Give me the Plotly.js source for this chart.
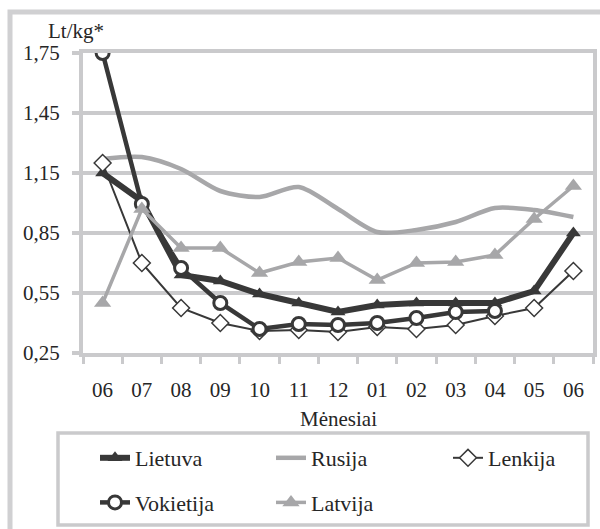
<!DOCTYPE html>
<html>
<head>
<meta charset="utf-8">
<script src="https://cdn.plot.ly/plotly-3.0.1.min.js"></script>
<style>html,body{margin:0;padding:0;background:#fff;}#chart{width:600px;height:529px;}</style>
</head>
<body>
<div id="chart"></div>
<script>
const months = ['06','07','08','09','10','11','12','01','02','03','04','05','06'];
const lietuva   = [1.15, 1.01, 0.64, 0.61, 0.545, 0.50, 0.455, 0.49, 0.50, 0.50, 0.50, 0.56, 0.85];
const rusija    = [1.22, 1.23, 1.17, 1.06, 1.03, 1.08, 0.97, 0.855, 0.865, 0.905, 0.975, 0.965, 0.93];
const lenkija   = [1.20, 0.70, 0.475, 0.40, 0.36, 0.365, 0.355, 0.38, 0.37, 0.39, 0.435, 0.475, 0.66];
const vokietija = [1.75, 0.995, 0.675, 0.50, 0.37, 0.395, 0.39, 0.40, 0.425, 0.455, 0.46, null, null];
const latvija   = [0.50, 0.97, 0.775, 0.775, 0.65, 0.705, 0.725, 0.615, 0.70, 0.705, 0.74, 0.92, 1.085];
const yTickVals = [0.25, 0.55, 0.85, 1.15, 1.45, 1.75];
const yTickText = ['0,25', '0,55', '0,85', '1,15', '1,45', '1,75'];

const xIdx = months.map((_, i) => i);
const DARK = '#383838';
const GREY = '#a7a7a9';
const GRID = '#cacacc';
const FONT = 'Liberation Serif, serif';
const TXT = '#262626';

const traces = [
  {name: 'Lietuva', x: xIdx, y: lietuva, mode: 'lines+markers', legend: 'legend', legendgroup: 'a',
   line: {color: DARK, width: 6}, marker: {symbol: 'triangle-up', size: 13, color: DARK}},
  {name: 'Rusija', x: xIdx, y: rusija, mode: 'lines', legend: 'legend2', legendgroup: 'b',
   line: {color: GREY, width: 4.5, shape: 'spline', smoothing: 0.8}},
  {name: 'Lenkija', x: xIdx, y: lenkija, mode: 'lines+markers', legend: 'legend3', legendgroup: 'c',
   line: {color: DARK, width: 2}, marker: {symbol: 'diamond', size: 13, color: '#fff', line: {color: DARK, width: 1.5}}},
  {name: 'Vokietija', x: xIdx, y: vokietija, mode: 'lines+markers', legend: 'legend', legendgroup: 'd',
   line: {color: DARK, width: 4.5}, marker: {symbol: 'circle', size: 13, color: '#fff', line: {color: DARK, width: 3}}},
  {name: 'Latvija', x: xIdx, y: latvija, mode: 'lines+markers', legend: 'legend2', legendgroup: 'e',
   line: {color: GREY, width: 3.5}, marker: {symbol: 'triangle-up', size: 15, color: GREY}}
];

const px2x = p => (p - 83) / 510;
const px2y = p => (353 - p) / 300;

function col(xpx, ymid) {
  return {
    orientation: 'v', xref: 'container', yref: 'container',
    x: xpx / 600, xanchor: 'left', y: 1 - ymid / 529, yanchor: 'middle',
    tracegroupgap: 13,
    font: {family: FONT, size: 22, color: TXT}, bgcolor: 'rgba(0,0,0,0)', borderwidth: 0
  };
}

const layout = {
  width: 600, height: 529,
  margin: {l: 83, r: 7, t: 53, b: 176, autoexpand: false},
  paper_bgcolor: '#fff', plot_bgcolor: '#fff',
  font: {family: FONT, size: 21, color: TXT},
  showlegend: true,
  xaxis: {
    range: [-0.5, months.length - 0.5], automargin: false,
    tickmode: 'array', tickvals: xIdx, ticktext: months,
    ticks: '', showgrid: false, zeroline: false,
    showline: true, mirror: true, linecolor: GRID, linewidth: 4,
    ticklabelstandoff: 15,
    minor: {tick0: -0.5, dtick: 1, ticks: 'outside', ticklen: 7, tickwidth: 3, tickcolor: GRID, showgrid: false},
    tickfont: {family: FONT, size: 21, color: TXT}
  },
  yaxis: {
    range: [0.25, 1.75], automargin: false,
    tickmode: 'array', tickvals: yTickVals, ticktext: yTickText,
    ticks: 'outside', ticklen: 7, tickwidth: 4, tickcolor: GRID,
    showgrid: true, gridcolor: GRID, gridwidth: 4, zeroline: false,
    showline: true, mirror: true, linecolor: GRID, linewidth: 4,
    ticklabelstandoff: 8,
    tickfont: {family: FONT, size: 21, color: TXT}
  },
  legend: col(95, 480.5),
  legend2: col(271, 480.5),
  legend3: col(448, 458),
  shapes: [
    {type: 'rect', xref: 'paper', yref: 'paper', x0: px2x(10), x1: px2x(640), y0: px2y(12), y1: px2y(620),
     line: {color: '#d0d0d2', width: 5}, fillcolor: 'rgba(0,0,0,0)', layer: 'below'},
    {type: 'rect', xref: 'paper', yref: 'paper', x0: px2x(58), x1: px2x(588), y0: px2y(433), y1: px2y(525),
     line: {color: GRID, width: 3.5}, fillcolor: 'rgba(0,0,0,0)', layer: 'below'}
  ],
  annotations: [
    {text: 'Lt/kg*', xref: 'paper', yref: 'paper', x: px2x(76), y: px2y(31), xanchor: 'center', yanchor: 'middle',
     showarrow: false, font: {family: FONT, size: 21, color: TXT}},
    {text: 'Mėnesiai', xref: 'paper', yref: 'paper', x: px2x(338), y: px2y(419), xanchor: 'center', yanchor: 'middle',
     showarrow: false, font: {family: FONT, size: 21, color: TXT}}
  ]
};

Plotly.newPlot('chart', traces, layout, {displayModeBar: false, staticPlot: true});
</script>
</body>
</html>
